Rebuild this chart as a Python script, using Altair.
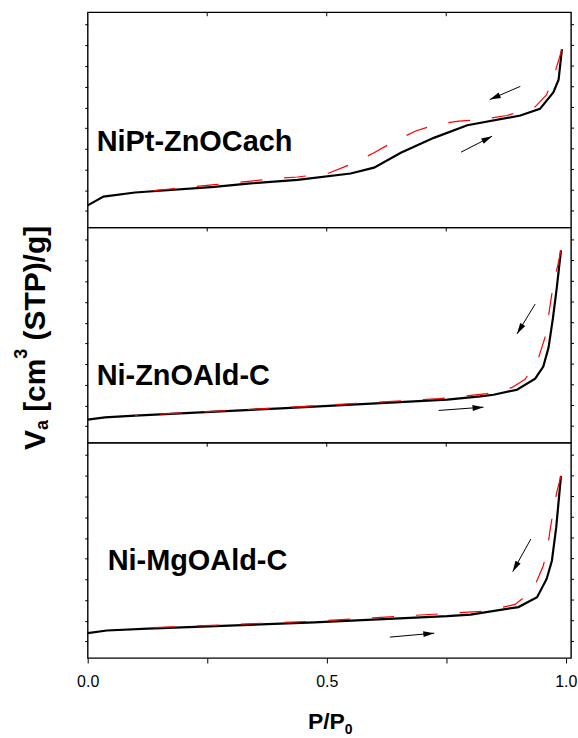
import math

import altair as alt
import pandas as pd

FONT = "Liberation Sans"
PANEL_W = 485
PANEL_H = 216
X_DOMAIN = [0.0, 1.011]
Y_DOMAIN = [-8.0, 96.0]
X_TICKS = [0.0, 0.25, 0.5, 0.75, 1.0]
INNER_X_TICKS = [0.25, 0.5, 0.75]
Y_TICKS = [0, 10, 20, 30, 40, 50, 60, 70, 80, 90]

# NiPt-ZnOCach: adsorption (solid) and desorption (dashed) branches
nipt_ads_p = [0.000, 0.033, 0.099, 0.265, 0.335, 0.439, 0.550, 0.599, 0.655, 0.724, 0.794, 0.905, 0.946, 0.974, 0.985, 0.992]
nipt_ads_v = [2.7, 6.9, 8.9, 11.6, 13.2, 15.0, 18.1, 20.9, 28.1, 35.3, 41.4, 46.1, 49.3, 57.3, 63.4, 78.2]
nipt_des_p = [0.992, 0.978, 0.960, 0.936, 0.877, 0.821, 0.776, 0.728, 0.686, 0.644, 0.599, 0.550, 0.502, 0.439, 0.397, 0.265, 0.099]
nipt_des_v = [78.2, 67.4, 56.2, 50.3, 46.1, 44.1, 43.4, 41.7, 38.6, 34.0, 28.1, 22.5, 18.1, 16.4, 15.7, 12.7, 8.9]
nipt_arrow_p = [0.905, 0.781]
nipt_arrow_v = [60.2, 28.4]
nipt_arrow_p2 = [0.841, 0.846]
nipt_arrow_v2 = [53.8, 36.1]

# Ni-ZnOAld-C
nizn_ads_p = [0.000, 0.036, 0.099, 0.404, 0.752, 0.821, 0.849, 0.898, 0.936, 0.953, 0.964, 0.973, 0.981, 0.990]
nizn_ads_v = [3.2, 4.3, 5.1, 8.6, 12.8, 14.4, 15.2, 17.6, 23.0, 28.8, 38.0, 52.0, 66.5, 85.0]
nizn_des_p = [0.990, 0.983, 0.974, 0.964, 0.957, 0.941, 0.915, 0.887, 0.835, 0.734, 0.404, 0.099]
nizn_des_v = [85.0, 77.5, 68.5, 53.5, 43.3, 31.5, 22.7, 18.6, 15.7, 13.3, 8.9, 5.2]
nizn_arrow_p = [0.936, 0.734]
nizn_arrow_v = [59.0, 7.6]
nizn_arrow_p2 = [0.898, 0.828]
nizn_arrow_v2 = [44.6, 9.2]

# Ni-MgOAld-C
nimg_ads_p = [0.000, 0.040, 0.126, 0.474, 0.752, 0.801, 0.901, 0.940, 0.960, 0.971, 0.980, 0.990]
nimg_ads_v = [4.0, 5.3, 6.2, 9.2, 12.2, 13.0, 16.6, 21.4, 30.2, 39.0, 55.1, 80.0]
nimg_des_p = [0.990, 0.981, 0.974, 0.967, 0.962, 0.953, 0.931, 0.894, 0.832, 0.474, 0.123]
nimg_des_v = [80.0, 71.9, 63.4, 53.5, 45.2, 36.6, 24.6, 17.9, 14.6, 9.8, 6.5]
nimg_arrow_p = [0.927, 0.632]
nimg_arrow_v = [49.5, 2.1]
nimg_arrow_p2 = [0.889, 0.725]
nimg_arrow_v2 = [33.7, 4.0]

# pixels per data unit, used to orient the arrowheads
SX = PANEL_W / (X_DOMAIN[1] - X_DOMAIN[0])
SY = PANEL_H / (Y_DOMAIN[1] - Y_DOMAIN[0])
ARROW_HEAD = "M0,0L0.27,1L-0.27,1Z"

Y_AXIS = alt.Axis(values=Y_TICKS, labels=False, tickSize=3, tickColor="black",
                  tickWidth=1, domain=False, grid=False, title=None)
X_AXIS_BOTTOM = alt.Axis(
    values=X_TICKS,
    labelExpr="datum.value == 0.25 || datum.value == 0.75 ? '' : format(datum.value, '.1f')",
    tickSize=5, tickColor="black", tickWidth=1, labelPadding=11, labelFlush=False,
    labelFont=FONT, labelFontSize=16, labelColor="black",
    domain=False, grid=False, title=None,
)


def xenc(field, axis):
    return alt.X(f"{field}:Q", scale=alt.Scale(domain=X_DOMAIN, nice=False, zero=False), axis=axis)


def yenc(field):
    return alt.Y(f"{field}:Q", scale=alt.Scale(domain=Y_DOMAIN, nice=False, zero=False), axis=Y_AXIS)


def piece(txt, x, y, size, angle=0):
    kw = dict(font=FONT, fontSize=size, fontWeight="bold", align="left",
              baseline="alphabetic", color="black")
    if angle:
        kw["angle"] = angle
    return alt.Chart(pd.DataFrame({"t": [txt]})).mark_text(**kw).encode(
        text="t:N", x=alt.value(x), y=alt.value(y))


def panel(name, ads_p, ads_v, des_p, des_v, ap, av, ap2, av2, lx, ly, bottom=False, extra=()):
    ads = pd.DataFrame({"p": ads_p, "v": ads_v, "seq": range(len(ads_p))})
    des = pd.DataFrame({"p": des_p, "v": des_v, "seq": range(len(des_p))})
    arrows = pd.DataFrame({"p": ap, "v": av, "p2": ap2, "v2": av2})
    arrows["angle"] = [
        math.degrees(math.atan2((b - a) * SX, (d - c) * SY)) % 360
        for a, b, c, d in zip(ap, ap2, av, av2)
    ]
    x_axis = X_AXIS_BOTTOM if bottom else None

    line_ads = alt.Chart(ads).mark_line(color="black", strokeWidth=2.2).encode(
        x=xenc("p", x_axis), y=yenc("v"), order="seq:Q")
    line_des = alt.Chart(des).mark_line(color="#ff0000", strokeWidth=1.2, strokeDash=[22, 22]).encode(
        x=xenc("p", x_axis), y=yenc("v"), order="seq:Q")
    shafts = alt.Chart(arrows).mark_rule(color="black", strokeWidth=1).encode(
        x=xenc("p", x_axis), y=yenc("v"), x2="p2:Q", y2="v2:Q")
    heads = alt.Chart(arrows).mark_point(shape=ARROW_HEAD, filled=True, size=484,
                                         color="black", opacity=1, strokeWidth=0).encode(
        x=xenc("p2", x_axis), y=yenc("v2"), angle=alt.Angle("angle:Q", scale=None))
    top_ticks = alt.Chart(pd.DataFrame({"p": INNER_X_TICKS})).mark_rule(color="black", strokeWidth=1).encode(
        x=xenc("p", x_axis), y=alt.value(0), y2=alt.value(4))
    right_ticks = alt.Chart(pd.DataFrame({"v": Y_TICKS})).mark_rule(color="black", strokeWidth=1).encode(
        y=yenc("v"), x=alt.value(PANEL_W), x2=alt.value(PANEL_W + 3))
    label = alt.Chart(pd.DataFrame({"name": [name]})).mark_text(
        font=FONT, fontSize=29, fontWeight="bold", align="left", baseline="alphabetic", color="black"
    ).encode(text="name:N", x=alt.value(lx), y=alt.value(ly))

    layers = [line_ads, line_des, shafts, heads, top_ticks, right_ticks, label, *extra]
    return alt.layer(*layers).properties(width=PANEL_W, height=PANEL_H)


# page-corner anchor so the frame sits at a fixed offset from the top-left
anchor = alt.Chart(pd.DataFrame({"k": [0]})).mark_rule(color="white", strokeWidth=1).encode(
    x=alt.value(-86), x2=alt.value(-85), y=alt.value(-9), y2=alt.value(-8))

# rotated y title: V_a [cm^3 (STP)/g]
y_title = [
    piece("V", -42.7, 223.3, 30, 270),
    piece("a", -40.0, 203.3, 18, 270),
    piece("[cm", -42.7, 185.0, 30, 270),
    piece("3", -61.0, 131.6, 18, 270),
    piece("(STP)/g]", -42.7, 113.3, 30, 270),
]

# x title: P/P_0
x_title = [
    piece("P/P", 221, 287, 23),
    piece("0", 258, 292, 14),
]

top = panel("NiPt-ZnOCach", nipt_ads_p, nipt_ads_v, nipt_des_p, nipt_des_v,
            nipt_arrow_p, nipt_arrow_v, nipt_arrow_p2, nipt_arrow_v2, 9, 139.3, extra=[anchor])
mid = panel("Ni-ZnOAld-C", nizn_ads_p, nizn_ads_v, nizn_des_p, nizn_des_v,
            nizn_arrow_p, nizn_arrow_v, nizn_arrow_p2, nizn_arrow_v2, 9, 158.3, extra=y_title)
bot = panel("Ni-MgOAld-C", nimg_ads_p, nimg_ads_v, nimg_des_p, nimg_des_v,
            nimg_arrow_p, nimg_arrow_v, nimg_arrow_p2, nimg_arrow_v2, 20, 127.3, bottom=True, extra=x_title)

chart = (
    alt.vconcat(top, mid, bot, spacing=0, bounds="flush")
    .properties(padding=0, background="white")
    .configure_view(stroke="black", strokeWidth=1.4)
)

chart.save("out.html", embed_options={"renderer": "svg", "actions": False})
